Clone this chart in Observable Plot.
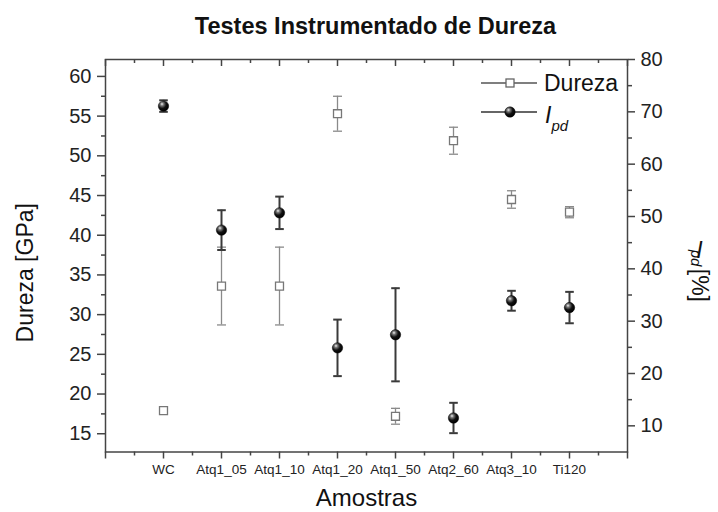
<!DOCTYPE html>
<html>
<head>
<meta charset="utf-8">
<script src="https://cdn.jsdelivr.net/npm/d3@7"></script>
<script src="https://cdn.jsdelivr.net/npm/@observablehq/plot@0.6"></script>
<style>
  html, body { margin: 0; padding: 0; background: #fff; }
</style>
</head>
<body>
<div id="chart"></div>
<script>
// ---- data ----
const categories = ["WC", "Atq1_05", "Atq1_10", "Atq1_20", "Atq1_50", "Atq2_60", "Atq3_10", "Ti120"];
const dureza    = [17.9, 33.6, 33.6, 55.3, 17.2, 51.9, 44.5, 42.9];   // GPa (left axis)
const durezaErr = [0.4, 4.9, 4.9, 2.2, 1.0, 1.7, 1.1, 0.7];
const ipd       = [71.1, 47.4, 50.7, 24.9, 27.4, 11.5, 33.9, 32.6];   // % (right axis)
const ipdErr    = [1.1, 3.8, 3.1, 5.4, 8.9, 2.9, 1.9, 3.0];
const leftTicks  = [15, 20, 25, 30, 35, 40, 45, 50, 55, 60];
const leftMinor  = [17.5, 22.5, 27.5, 32.5, 37.5, 42.5, 47.5, 52.5, 57.5];
const rightTicks = [10, 20, 30, 40, 50, 60, 70, 80];
const rightMinor = [15, 25, 35, 45, 55, 65, 75];
const legendNames = ["Dureza", "I"];

// ---- scales (left = Dureza, right = I_pd) ----
const L0 = 12.7, L1 = 62.13, R0 = 5, R1 = 80;
const toL = p => L0 + (p - R0) * (L1 - L0) / (R1 - R0);
const fromL = l => R0 + (l - L0) * (R1 - R0) / (L1 - L0);

const rows = categories.map((name, i) => ({
  pos: i + 1, name,
  d: dureza[i], dLo: dureza[i] - durezaErr[i], dHi: dureza[i] + durezaErr[i],
  p: toL(ipd[i]), pLo: toL(ipd[i] - ipdErr[i]), pHi: toL(ipd[i] + ipdErr[i])
}));

const W = 718, H = 512, mL = 105, mR = 91, mT = 59, mB = 60.5;
const frameH = H - mT - mB;
const axisColor = "#444";
const font = "'Liberation Sans', Arial, Helvetica, sans-serif";

const capSymbol = { draw(ctx, size) { const r = Math.sqrt(size / Math.PI); ctx.moveTo(-r, 0); ctx.lineTo(r, 0); } };
const xMajor = d3.range(0, 10);
const xMinor = d3.range(0.5, 9, 1);

const svg = Plot.plot({
  width: W, height: H,
  marginLeft: mL, marginRight: mR, marginTop: mT, marginBottom: mB,
  x: { domain: [0, 9] },
  y: { domain: [L0, L1] },
  style: { fontFamily: font, background: "#fff", color: "#222", overflow: "visible" },
  marks: [
    // bottom axis
    Plot.axisX({ ticks: xMajor, tickSize: 7, tickPadding: 5, fontSize: 13.5, stroke: axisColor, strokeWidth: 1.5,
      tickFormat: i => categories[i - 1] ?? "", label: null }),
    Plot.axisX({ ticks: xMinor, tickSize: 4, stroke: axisColor, strokeWidth: 1.5, tickFormat: () => "", label: null }),
    // top inward ticks
    Plot.tickX(xMajor, { x: d => d, insetBottom: frameH - 7, stroke: axisColor, strokeWidth: 1.5 }),
    Plot.tickX(xMinor, { x: d => d, insetBottom: frameH - 4, stroke: axisColor, strokeWidth: 1.5 }),
    // left axis
    Plot.axisY({ anchor: "left", ticks: leftTicks, tickSize: 8, tickPadding: 6, fontSize: 20, stroke: axisColor,
      strokeWidth: 1.5, tickFormat: d => d, label: null }),
    Plot.axisY({ anchor: "left", ticks: leftMinor, tickSize: 4, stroke: axisColor, strokeWidth: 1.5,
      tickFormat: () => "", label: null }),
    // right axis (I_pd)
    Plot.axisY({ anchor: "right", ticks: rightTicks.map(toL), tickSize: 7, tickPadding: 6, fontSize: 20,
      stroke: axisColor, strokeWidth: 1.5, tickFormat: d => Math.round(fromL(d)), label: null }),
    Plot.axisY({ anchor: "right", ticks: rightMinor.map(toL), tickSize: 4, stroke: axisColor, strokeWidth: 1.5,
      tickFormat: () => "", label: null }),
    Plot.frame({ stroke: axisColor, strokeWidth: 1.5 }),

    // Dureza: error bars + open squares
    Plot.ruleX(rows, { x: "pos", y1: "dLo", y2: "dHi", stroke: "#8a8a8a", strokeWidth: 1.3 }),
    Plot.dot(rows, { x: "pos", y: "dLo", symbol: capSymbol, r: 4.5, stroke: "#8a8a8a", strokeWidth: 1.3 }),
    Plot.dot(rows, { x: "pos", y: "dHi", symbol: capSymbol, r: 4.5, stroke: "#8a8a8a", strokeWidth: 1.3 }),
    Plot.dot(rows, { x: "pos", y: "d", symbol: "square", r: 4.5, fill: "#fff", stroke: "#777", strokeWidth: 1.3 }),

    // I_pd: error bars + spheres
    Plot.ruleX(rows, { x: "pos", y1: "pLo", y2: "pHi", stroke: "#3a3a3a", strokeWidth: 2 }),
    Plot.dot(rows, { x: "pos", y: "pLo", symbol: capSymbol, r: 4.3, stroke: "#3a3a3a", strokeWidth: 2 }),
    Plot.dot(rows, { x: "pos", y: "pHi", symbol: capSymbol, r: 4.3, stroke: "#3a3a3a", strokeWidth: 2 }),
    Plot.dot(rows, { x: "pos", y: "p", r: 5.2, fill: "url(#sphere)", stroke: "#000", strokeWidth: 0.5 }),

    // titles
    Plot.text(["Testes Instrumentado de Dureza"], { frameAnchor: "top", dx: 9, dy: -26, lineAnchor: "bottom",
      textAnchor: "middle", fontSize: 23.5, fontWeight: "bold", fill: "#111" }),
    Plot.text(["Amostras"], { frameAnchor: "bottom", dy: 54, lineAnchor: "bottom", textAnchor: "middle",
      fontSize: 24, fill: "#111" }),
    Plot.text(["Dureza [GPa]"], { frameAnchor: "left", rotate: -90, dx: -73, dy: 17, lineAnchor: "bottom",
      textAnchor: "middle", fontSize: 23, fill: "#111" }),
    Plot.text(["I"], { frameAnchor: "right", dx: 72, dy: 2, lineAnchor: "bottom", textAnchor: "middle",
      fontSize: 23, fontStyle: "italic", fill: "#111" }),
    Plot.text(["pd"], { frameAnchor: "right", rotate: 90, dx: 63, dy: -6, lineAnchor: "bottom", textAnchor: "start",
      fontSize: 15, fontStyle: "italic", fill: "#111" }),
    Plot.text(["[%]"], { frameAnchor: "right", rotate: 90, dx: 64, dy: 13, lineAnchor: "bottom", textAnchor: "start",
      fontSize: 23, fill: "#111" })
  ]
});

// sphere gradient
const s = d3.select(svg);
const defs = s.insert("defs", ":first-child");
const g = defs.append("radialGradient").attr("id", "sphere").attr("cx", "38%").attr("cy", "35%").attr("r", "65%")
  .attr("fx", "35%").attr("fy", "30%");
g.append("stop").attr("offset", "0%").attr("stop-color", "#f2f2f2");
g.append("stop").attr("offset", "25%").attr("stop-color", "#777");
g.append("stop").attr("offset", "60%").attr("stop-color", "#111");
g.append("stop").attr("offset", "100%").attr("stop-color", "#000");

// legend (inside frame, top right)
const leg = s.append("g").attr("font-family", font).attr("fill", "#111").attr("text-anchor", "start");
const rowY = [83, 112];
leg.append("line").attr("x1", 481).attr("x2", 537).attr("y1", rowY[0]).attr("y2", rowY[0]).attr("stroke", "#555").attr("stroke-width", 1.3);
leg.append("rect").attr("x", 506).attr("y", rowY[0] - 4).attr("width", 8).attr("height", 8).attr("fill", "#fff").attr("stroke", "#666").attr("stroke-width", 1.3);
leg.append("text").attr("x", 544).attr("y", rowY[0] + 8).attr("font-size", 23).text(legendNames[0]);
leg.append("line").attr("x1", 481).attr("x2", 537).attr("y1", rowY[1]).attr("y2", rowY[1]).attr("stroke", "#333").attr("stroke-width", 1.3);
leg.append("circle").attr("cx", 510).attr("cy", rowY[1]).attr("r", 5.2).attr("fill", "url(#sphere)").attr("stroke", "#000").attr("stroke-width", 0.5);
const t2 = leg.append("text").attr("x", 545).attr("y", rowY[1] + 11).attr("font-size", 23).attr("font-style", "italic");
t2.append("tspan").text(legendNames[1]);
t2.append("tspan").attr("font-size", 15).attr("dy", 8).text("pd");

document.getElementById("chart").appendChild(svg);
</script>
</body>
</html>
